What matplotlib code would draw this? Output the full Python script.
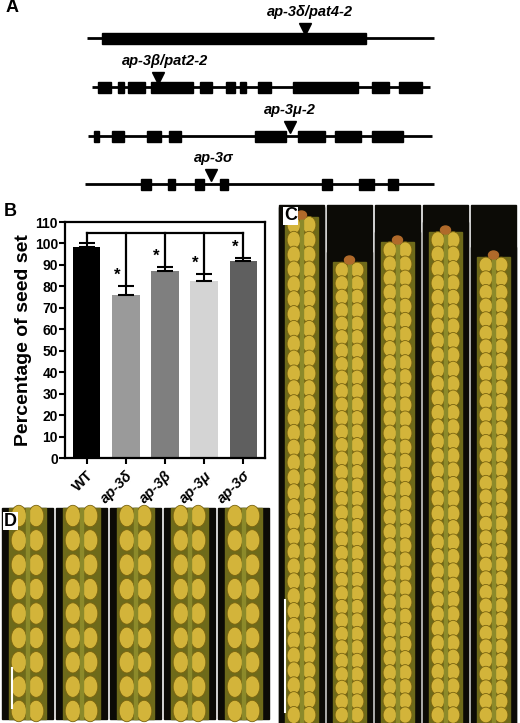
import numpy as np
import matplotlib.pyplot as plt
from matplotlib.patches import Rectangle, Ellipse

plt.rcParams['font.family'] = ['Liberation Sans', 'DejaVu Sans']
plt.rcParams['font.weight'] = 'bold'
plt.rcParams['axes.labelweight'] = 'bold'

W, H = 520, 723

# panel A: gene models (pixel positions)
genes = ["ap-3δ/pat4-2", "ap-3β/pat2-2", "ap-3μ-2", "ap-3σ"]
gene_span = [(87, 434), (92, 430), (88, 432), (85, 434)]
gene_y = [38, 87, 136, 184]
exons = [
    [(102, 366)],
    [(98, 111), (118, 124), (128, 145), (151, 193), (200, 212), (226, 235),
     (240, 246), (258, 271), (293, 358), (372, 389), (399, 422)],
    [(94, 99), (112, 124), (147, 161), (169, 181), (255, 286), (298, 325),
     (335, 361), (372, 403)],
    [(141, 151), (168, 175), (195, 204), (220, 228), (322, 332), (359, 374),
     (388, 398)],
]
insert_x = [305, 158, 290, 211]
label_x = [310, 165, 290, 214]

# panel B: seed set
lines = ["WT", "ap-3δ", "ap-3β", "ap-3μ", "ap-3σ"]
seed_set = [98.5, 76.0, 87.0, 82.5, 92.0]
seed_err = [1.5, 4.0, 1.8, 3.2, 1.0]
bar_colors = ["#000000", "#9a9a9a", "#7f7f7f", "#d4d4d4", "#5f5f5f"]

fig = plt.figure(figsize=(5.2, 7.23), dpi=100)
ov = fig.add_axes([0, 0, 1, 1])
ov.set_xlim(0, W)
ov.set_ylim(H, 0)
ov.axis("off")

for name, (x0, x1), y, ex, ix, lx in zip(genes, gene_span, gene_y, exons, insert_x, label_x):
    ov.plot([x0, x1], [y, y], color="k", lw=2, solid_capstyle="butt")
    for a, b in ex:
        ov.add_patch(Rectangle((a, y - 5.5), b - a, 11, color="k"))
    ov.plot([ix], [y - 9], marker="v", color="k", ms=9)
    ov.text(lx, y - 19, name, style="italic", fontweight="bold", fontsize=10.5,
            ha="center", va="bottom")


def silique(x0, y0, w, h, seeds_rows, top_cap=False):
    cap = 10 if top_cap else 0
    ov.add_patch(Rectangle((x0, y0), w, h, color="#0c0b06", zorder=1))
    cx = x0 + w / 2
    ov.add_patch(Rectangle((cx - w * 0.36, y0 + cap), w * 0.72, h - cap,
                           color="#6e6a1a", zorder=2))
    ys = np.linspace(y0 + cap + 8, y0 + h - 8, seeds_rows)
    sh = min((ys[1] - ys[0]) * 1.15, w * 0.42)
    for i, yy in enumerate(ys):
        for side in (-1, 1):
            off = side * w * 0.17
            ov.add_patch(Ellipse((cx + off, yy), w * 0.3, sh,
                                 facecolor="#d3b43a", edgecolor="#7a6410", lw=0.6, zorder=3))
    ov.add_patch(Rectangle((cx - 1.5, y0 + cap), 3, h - cap, color="#8c8a2a", zorder=4))
    if top_cap:
        ov.add_patch(Ellipse((cx, y0 + 8), 10, 8, color="#b06a2a", zorder=5))


# panel C photos
c_left, c_w, c_gap = 279, 45, 3
c_tops = [207, 252, 232, 222, 247]
for i in range(5):
    x0 = c_left + i * (c_w + c_gap)
    ov.add_patch(Rectangle((x0, 205), c_w, H - 205, color="#0c0b06", zorder=0))
    silique(x0, c_tops[i], c_w, H - c_tops[i], 34, top_cap=True)
ov.plot([285, 285], [600, 712], color="white", lw=1.5, zorder=6)

# panel D photos
d_left, d_w, d_gap = 2, 51, 3
for i in range(5):
    x0 = d_left + i * (d_w + d_gap)
    silique(x0, 508, d_w, 211, 9)
ov.plot([12, 12], [668, 708], color="white", lw=1.5, zorder=6)

for lab, x, y in [("A", 6, 8), ("B", 4, 212), ("C", 284, 216), ("D", 4, 521)]:
    ov.text(x, y, lab, fontsize=13, fontweight="bold", va="center", zorder=10,
            color="k", bbox=dict(facecolor="white", edgecolor="none", pad=0.5))

# panel B bar chart
ax = fig.add_axes([65 / W, 1 - 458 / H, 200 / W, 236 / H])
xs = np.arange(len(lines))
ax.bar(xs, seed_set, width=0.7, color=bar_colors, zorder=2)
ax.errorbar(xs, seed_set, yerr=[np.zeros(5), seed_err], fmt="none", ecolor="k",
            elinewidth=1.5, capsize=6, capthick=1.5, zorder=3)
ax.set_ylim(0, 110)
ax.set_xlim(-0.55, 4.55)
ax.set_yticks(range(0, 111, 10))
ax.set_xticks(xs)
ax.set_xticklabels(lines, rotation=45, ha="right", rotation_mode="anchor",
                   fontsize=10.5, fontweight="bold")
for t in ax.get_xticklabels()[1:]:
    t.set_style("italic")
for t in ax.get_yticklabels():
    t.set_fontweight("bold")
ax.tick_params(axis="y", labelsize=10, width=1.5, length=4, pad=1)
ax.tick_params(axis="x", width=1.5, length=4)
for s in ax.spines.values():
    s.set_linewidth(1.6)
ax.set_ylabel("Percentage of seed set", fontsize=14, fontweight="bold", labelpad=2)
bracket = 105
ax.plot([0, 4], [bracket, bracket], color="k", lw=1.6, clip_on=False)
for i in range(5):
    top = seed_set[i] + seed_err[i] + 0.8
    ax.plot([i, i], [top, bracket], color="k", lw=1.6, clip_on=False)
    if i > 0:
        ax.text(i - 0.22, top + 1, "*", ha="center", va="bottom", fontsize=12,
                fontweight="bold")

fig.savefig("out.png", dpi=100)
